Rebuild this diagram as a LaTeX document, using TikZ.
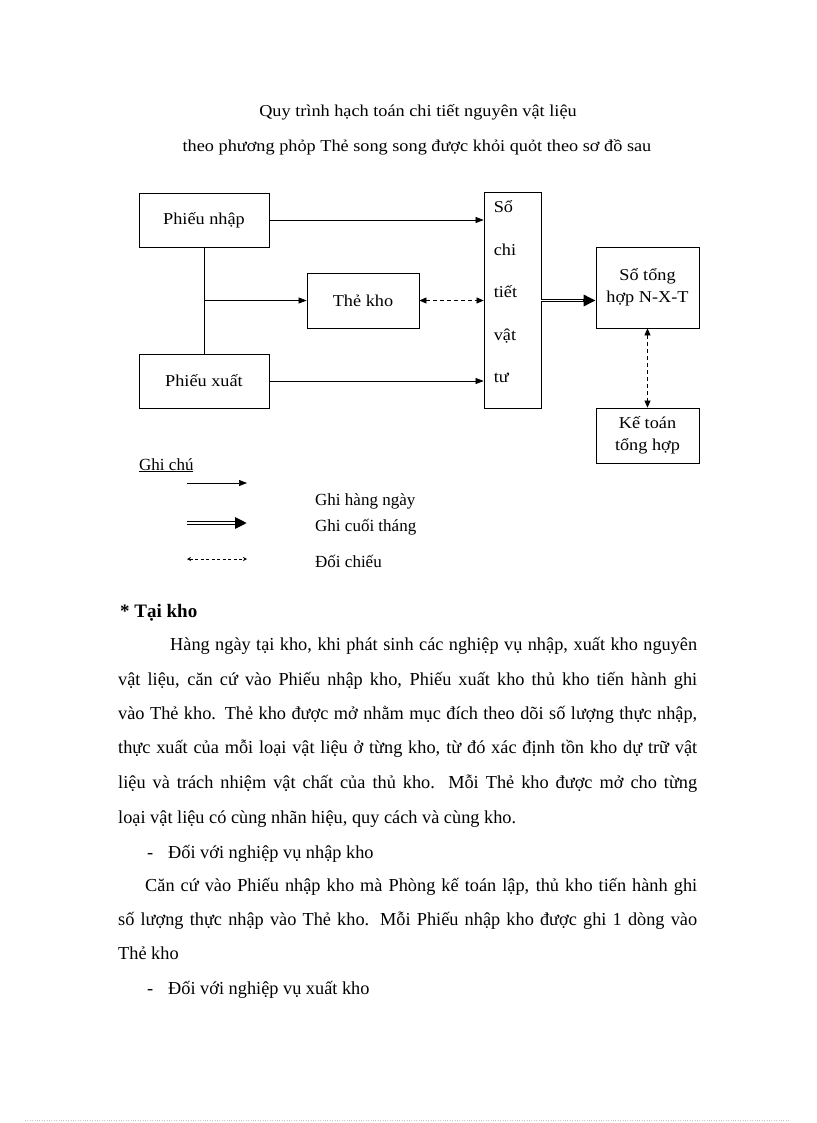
\documentclass[tikz,border=0pt]{standalone}
\usepackage{fontspec}
\setmainfont{Liberation Serif}
\newfontfamily\diafont[FakeStretch=1.1]{Liberation Serif}
\usetikzlibrary{arrows.meta,positioning,calc}
\newcommand{\bodysize}{\fontsize{18.3}{20}\selectfont}
\newcommand{\diasize}{\diafont\fontsize{16.6}{22}\selectfont}

\begin{document}
\begin{tikzpicture}[x=1pt,y=-1pt,
    box/.style={draw, line width=0.8pt, inner sep=0pt, align=center, font=\diasize},
    txt/.style={anchor=base west, inner sep=0pt, font=\bodysize},
    lgd/.style={anchor=base west, inner sep=0pt, font=\fontsize{17}{20}\selectfont},
    daily/.style={line width=0.7pt, -{Triangle[length=8pt,width=6pt]}},
    monthly/.style={line width=3.6pt, -{Triangle[length=12pt,width=11pt]},
      postaction={draw, white, line width=1.3pt, shorten >=12.5pt, -}},
    compare/.style={line width=0.7pt, dash pattern=on 4pt off 3pt,
      {Triangle[length=7pt,width=6pt]}-{Triangle[length=7pt,width=6pt]}}]
  \useasboundingbox (0,0) rectangle (816,1123);

  % tieu de
  \node[font=\diasize] (title1) at (418,112) {Quy trình hạch toán chi tiết nguyên vật liệu};
  \node[font=\diasize] (title2) at (417,147) {theo phương phỏp Thẻ song song được khỏi quỏt theo sơ đồ sau};

  % so do
  \node[box, minimum width=130, minimum height=54] (pn) at (204,220) {Phiếu nhập};
  \node[box, minimum width=130, minimum height=54] (px) at (204,381) {Phiếu xuất};
  \node[box, minimum width=112, minimum height=55] (tk) at (363,300.5) {Thẻ kho};
  \node[box, minimum width=57, minimum height=216] (sct) at (512.5,300) {};
  \foreach \w [count=\i] in {Sổ,chi,tiết,vật,tư}
    \node[anchor=base west, inner sep=0pt, font=\diasize] (sct\i) at ($(sct.north west)+(10,21+42.5*\i-42.5)$) {\w};
  \node[box, minimum width=103, minimum height=81] (sth) at (647.5,287.5) {Sổ tổng\\hợp N-X-T};
  \node[box, minimum width=103, minimum height=55] (ktth) at (647.5,435.5) {Kế toán\\tổng hợp};

  \draw[daily] (pn.east) -- (pn.east -| sct.west);
  \draw[daily] (px.east) -- (px.east -| sct.west);
  \draw[line width=0.7pt] (pn.south) -- (px.north);
  \coordinate (fork) at ($(pn.south)!0.5!(px.north)$);
  \draw[daily] (fork) -- (fork -| tk.west);
  \draw[compare] (tk.east) -- (tk.east -| sct.west);
  \draw[monthly] (sct.east |- tk.east) -- (sth.west |- tk.east);
  \draw[compare] (sth.south) -- (ktth.north);

  % ghi chu
  \node[lgd] (gc) at (139,470) {\underline{Ghi chú}};
  \coordinate (a1) at (187,483); \coordinate (b1) at (247,483);
  \coordinate (a2) at (187,523); \coordinate (b2) at (247,523);
  \coordinate (a3) at (187,559); \coordinate (b3) at (247,559);
  \draw[daily] (a1) -- (b1);
  \draw[monthly] (a2) -- (b2);
  \draw[line width=0.5pt, dash pattern=on 3pt off 2.5pt,
    {Stealth[length=4pt,width=4pt]}-{Stealth[length=4pt,width=4pt]}] (a3) -- (b3);
  \node[lgd] (lg1) at (315,505) {Ghi hàng ngày};
  \node[lgd] (lg2) at (315,531) {Ghi cuối tháng};
  \node[lgd] (lg3) at (315,567) {Đối chiếu};

  % van ban
  \node[txt, font=\fontsize{19}{20}\selectfont\bfseries] (tai) at (120,617) {* Tại kho};
  \node[txt] (t1) at (170,650) {\makebox[527pt][s]{Hàng ngày tại kho, khi phát sinh các nghiệp vụ nhập, xuất kho nguyên}};
  \node[txt] (t2) at (118,685) {\makebox[579pt][s]{vật liệu, căn cứ vào Phiếu nhập kho, Phiếu xuất kho thủ kho tiến hành ghi}};
  \node[txt] (t3) at (118,719) {\makebox[579pt][s]{vào Thẻ kho. Thẻ kho được mở nhằm mục đích theo dõi số lượng thực nhập,}};
  \node[txt] (t4) at (118,753) {\makebox[579pt][s]{thực xuất của mỗi loại vật liệu ở từng kho, từ đó xác định tồn kho dự trữ vật}};
  \node[txt] (t5) at (118,788) {\makebox[579pt][s]{liệu và trách nhiệm vật chất của thủ kho. Mỗi Thẻ kho được mở cho từng}};
  \node[txt] (t6) at (118,823) {loại vật liệu có cùng nhãn hiệu, quy cách và cùng kho.};
  \node[txt] (d1) at (147,858) {-};
  \node[txt] (t7) at (168,858) {Đối với nghiệp vụ nhập kho};
  \node[txt] (t8) at (145,891) {\makebox[552pt][s]{Căn cứ vào Phiếu nhập kho mà Phòng kế toán lập, thủ kho tiến hành ghi}};
  \node[txt] (t9) at (118,925) {\makebox[579pt][s]{số lượng thực nhập vào Thẻ kho. Mỗi Phiếu nhập kho được ghi 1 dòng vào}};
  \node[txt] (t10) at (118,959) {Thẻ kho};
  \node[txt] (d2) at (147,994) {-};
  \node[txt] (t11) at (168,994) {Đối với nghiệp vụ xuất kho};

  \draw[gray!45, line width=0.4pt, dotted] (25,1120) -- (790,1120);
\end{tikzpicture}
\end{document}
